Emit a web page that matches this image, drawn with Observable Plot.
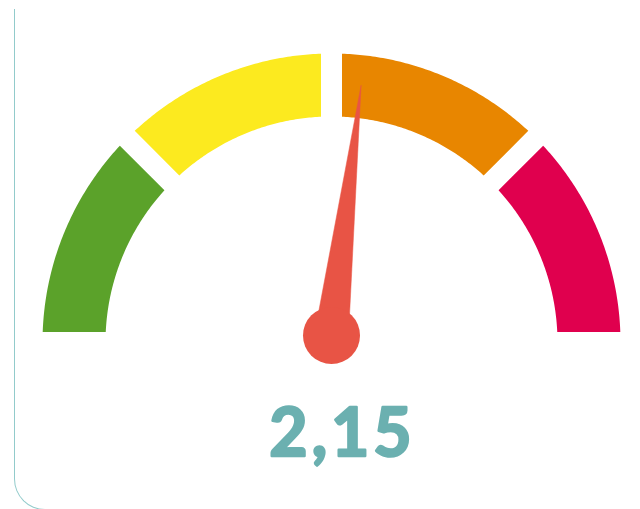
<!DOCTYPE html>
<html>
<head>
<meta charset="utf-8">
<script src="https://cdn.jsdelivr.net/npm/d3@7"></script>
<script src="https://cdn.jsdelivr.net/npm/@observablehq/plot@0.6"></script>
<style>
  html, body { margin: 0; padding: 0; background: #fff; overflow: hidden; width: 640px; height: 509px; }
  #card { position: absolute; left: 14px; top: 9px; width: 800px; height: 501px;
          border-left: 1.5px solid #92cbcb; border-bottom: 1.5px solid #92cbcb;
          border-bottom-left-radius: 31px; box-sizing: border-box; }
  #chart { position: absolute; left: 0; top: 0; }
  #chart text.value-label { letter-spacing: 4px; }
</style>
</head>
<body>
<div id="card"></div>
<div id="chart"></div>
<script>
// ---- data ----
const bandNames = ["vert", "jaune", "orange", "rouge"];
const bandStarts = [0, 1, 2, 3];
const bandEnds = [1, 2, 3, 4];
const bandColors = ["#5ba22a", "#fcea1f", "#e88600", "#e0004e"];
const gaugeMin = 0;
const gaugeMax = 4;
const value = 2.15;
const valueLabel = "2,15";

// ---- geometry helpers (gauge units: outer radius = 1) ----
const R_OUT = 1, R_IN = 226 / 289, GAP = 21 / 289;
const angle = v => Math.PI - (v - gaugeMin) / (gaugeMax - gaugeMin) * Math.PI;

const bandPts = [];
bandNames.forEach((name, i) => {
  const a0 = angle(bandStarts[i]), a1 = angle(bandEnds[i]);
  const dO = Math.asin(GAP / 2 / R_OUT), dI = Math.asin(GAP / 2 / R_IN);
  const n = 80;
  for (let k = 0; k <= n; k++) {
    const t = (a0 - dO) + ((a1 + dO) - (a0 - dO)) * k / n;
    bandPts.push({band: name, color: bandColors[i], x: R_OUT * Math.cos(t), y: R_OUT * Math.sin(t)});
  }
  for (let k = 0; k <= n; k++) {
    const t = (a1 + dI) + ((a0 - dI) - (a1 + dI)) * k / n;
    bandPts.push({band: name, color: bandColors[i], x: R_IN * Math.cos(t), y: R_IN * Math.sin(t)});
  }
});

// needle
const pivot = {x: 0, y: 7 / 289};
const NEEDLE_LEN = 252 / 289, NEEDLE_HALF = 17 / 289;
const th = angle(value);
const needlePts = [
  {x: pivot.x + NEEDLE_HALF * Math.cos(th + Math.PI / 2), y: pivot.y + NEEDLE_HALF * Math.sin(th + Math.PI / 2)},
  {x: pivot.x + NEEDLE_LEN * Math.cos(th), y: pivot.y + NEEDLE_LEN * Math.sin(th)},
  {x: pivot.x + NEEDLE_HALF * Math.cos(th - Math.PI / 2), y: pivot.y + NEEDLE_HALF * Math.sin(th - Math.PI / 2)}
];

const W = 640, H = 509, CX = 331, CY = 342, S = 289;

const plot = Plot.plot({
  width: W, height: H,
  margin: 0,
  style: {background: "transparent", overflow: "visible"},
  x: {domain: [-CX / S, (W - CX) / S], range: [0, W], axis: null},
  y: {domain: [-(H - CY) / S, CY / S], range: [H, 0], axis: null},
  marks: [
    Plot.line(bandPts, {x: "x", y: "y", z: "band", fill: "color", stroke: null, curve: "linear-closed"}),
    Plot.line(needlePts, {x: "x", y: "y", fill: "#e85445", stroke: "#e85445", strokeWidth: 0.5, curve: "linear-closed"}),
    Plot.dot([pivot], {x: "x", y: "y", r: 28.5, fill: "#e85445", stroke: null}),
    Plot.text([valueLabel], {x: 11 / S, y: -(434 - CY) / S, text: d => d, fill: "#6bb0b0",
      stroke: "#6bb0b0", strokeWidth: 2.5, strokeLinejoin: "round", className: "value-label",
      fontSize: 66, fontWeight: 700, fontFamily: "Lato, 'Open Sans', sans-serif", textAnchor: "middle"})
  ]
});
plot.querySelectorAll("text").forEach(t => t.classList.add("value-label"));
document.getElementById("chart").appendChild(plot);
</script>
</body>
</html>
